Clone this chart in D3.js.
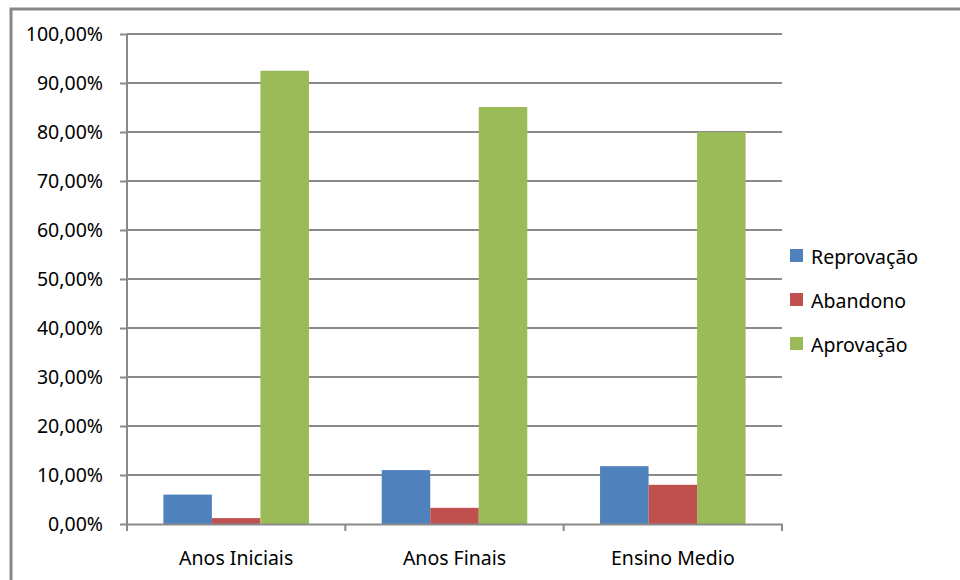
<!DOCTYPE html>
<html>
<head>
<meta charset="utf-8">
<script src="https://cdn.jsdelivr.net/npm/d3@7"></script>
<style>
body { margin: 0; background: #fff; }
</style>
</head>
<body>
<div class="chart"></div>
<script>
var categories = ['Anos Iniciais', 'Anos Finais', 'Ensino Medio'];
var seriesNames = ['Reprovação', 'Abandono', 'Aprovação'];
var reprovacao = [6.0, 11.0, 11.8];
var abandono = [1.2, 3.3, 8.0];
var aprovacao = [92.5, 85.1, 80.0];
var yTicks = [0, 10, 20, 30, 40, 50, 60, 70, 80, 90, 100];

var colors = ['#4f81bd', '#c0504d', '#9bbb59'],
	gridColor = '#8a8a8a',
	textColor = '#000',
	fontSize = '19.5px',
	fontFamily = '"Noto Sans", "Open Sans", sans-serif';

var series = [reprovacao, abandono, aprovacao];
var margin = {top: 34, left: 127, bottom: 55, right: 178};
var width = 960 - margin.left - margin.right;
var height = 580 - margin.top - margin.bottom - 1;

var svg = d3.select('.chart').append('svg')
	.attr('width', 960)
	.attr('height', 580)
	.attr('font-family', fontFamily);

// outer chart frame, cut off on the right and bottom
svg.append('rect')
	.attr('x', 11)
	.attr('y', 9)
	.attr('width', 1000)
	.attr('height', 1000)
	.attr('fill', 'none')
	.attr('stroke', '#878787')
	.attr('stroke-width', 3);

var g = svg.append('g')
	.attr('transform', 'translate(' + margin.left + ',' + margin.top + ')');

var x = d3.scaleBand().domain(categories).range([0, width]);
var y = d3.scaleLinear().domain([0, 100]).range([height, 0]);
// three bars per group, gap width 150% of a bar
var inner = d3.scaleBand().domain(d3.range(series.length))
	.range([0, x.bandwidth()]).paddingInner(0).paddingOuter(0.75);

// gridlines
g.append('g')
	.selectAll('line')
	.data(yTicks.filter(function(d) { return d > 0; }))
	.enter().append('line')
	.attr('x1', 0)
	.attr('x2', width)
	.attr('y1', function(d) { return y(d); })
	.attr('y2', function(d) { return y(d); })
	.attr('stroke', gridColor)
	.attr('stroke-width', 2);

// bars
categories.forEach(function(cat, i) {
	series.forEach(function(values, s) {
		g.append('rect')
			.attr('x', x(cat) + inner(s))
			.attr('y', y(values[i]))
			.attr('width', inner.bandwidth())
			.attr('height', y(0) - y(values[i]))
			.attr('fill', colors[s]);
	});
});

// y axis
var yAxis = g.append('g')
	.call(d3.axisLeft(y)
		.tickValues(yTicks)
		.tickSize(7)
		.tickPadding(17)
		.tickFormat(function(d) { return d3.format('.2f')(d).replace('.', ',') + '%'; }));
yAxis.select('.domain').attr('stroke', gridColor).attr('stroke-width', 2).attr('d', 'M0,' + (height + 7) + 'V0');
yAxis.selectAll('.tick line').attr('stroke', gridColor).attr('stroke-width', 2);
yAxis.selectAll('text').attr('font-size', fontSize).attr('fill', textColor).attr('font-family', fontFamily);

// x axis
var xAxis = g.append('g')
	.attr('transform', 'translate(0,' + height + ')')
	.call(d3.axisBottom(x).tickSize(0).tickPadding(27));
xAxis.select('.domain').attr('stroke', gridColor).attr('stroke-width', 2);
xAxis.selectAll('text').attr('font-size', fontSize).attr('fill', textColor).attr('font-family', fontFamily);
xAxis.selectAll('.sep')
	.data(categories.concat(['end']))
	.enter().append('line')
	.attr('class', 'sep')
	.attr('x1', function(d, i) { return i * x.bandwidth(); })
	.attr('x2', function(d, i) { return i * x.bandwidth(); })
	.attr('y1', 0)
	.attr('y2', 7)
	.attr('stroke', gridColor)
	.attr('stroke-width', 2);

// legend
var legend = svg.append('g')
	.attr('transform', 'translate(790,249)');
seriesNames.forEach(function(name, s) {
	var row = legend.append('g').attr('transform', 'translate(0,' + s * 44 + ')');
	row.append('rect')
		.attr('width', 13)
		.attr('height', 13)
		.attr('fill', colors[s]);
	row.append('text')
		.attr('x', 21)
		.attr('y', 15)
		.attr('font-size', fontSize)
		.attr('fill', textColor)
		.text(name);
});
</script>
</body>
</html>
